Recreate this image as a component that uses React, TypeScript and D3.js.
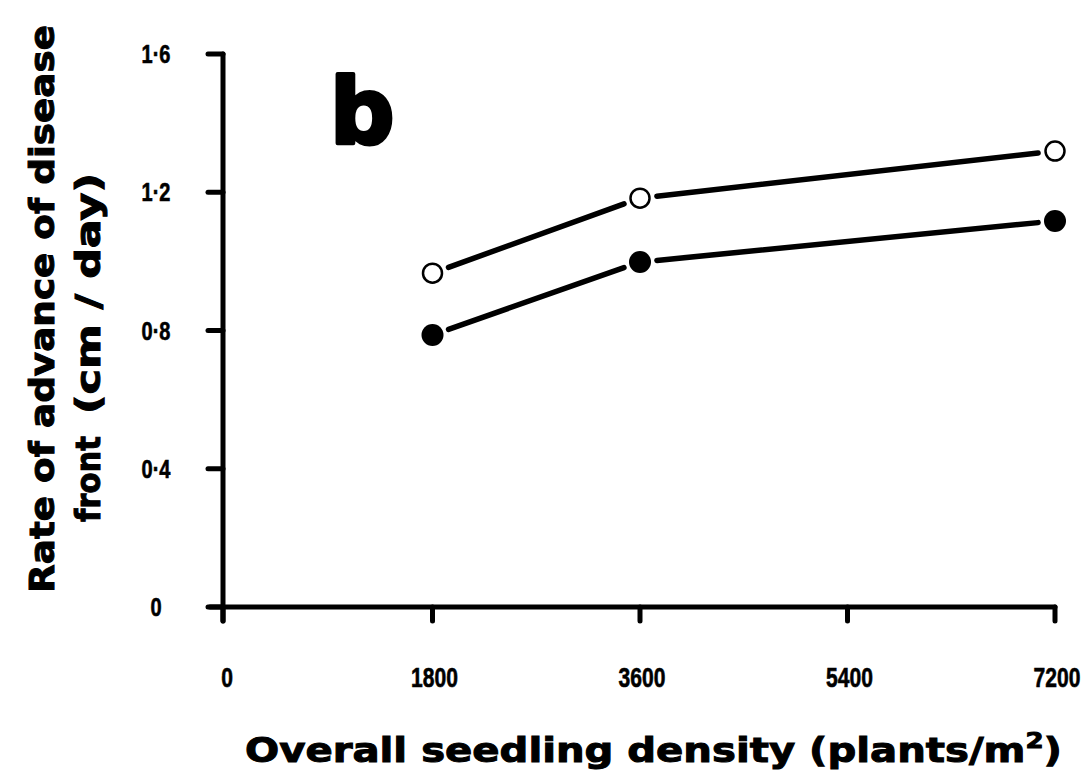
import React from "react";
import * as d3 from "d3";

const densities = [1800, 3600, 7200];
const openSeries = [0.966, 1.183, 1.319];
const filledSeries = [0.787, 0.998, 1.117];
const xTicks = [0, 1800, 3600, 5400, 7200];
const yTicks = [0, 0.4, 0.8, 1.2, 1.6];
const yTickLabels = ["0", "0·4", "0·8", "1·2", "1·6"];

const W = 1090;
const H = 775;

export default function App() {
  const x = d3.scaleLinear().domain([0, 7200]).range([225, 1055]);
  const y = d3.scaleLinear().domain([0, 1.6]).range([607, 54]);
  const tickFont = "'Liberation Sans', Arial, sans-serif";
  const titleFont = "'DejaVu Sans', Verdana, sans-serif";
  const axX = 223;

  const segments = (vals: number[]) => {
    const gap = 17;
    const out: { x1: number; y1: number; x2: number; y2: number }[] = [];
    for (let i = 0; i < vals.length - 1; i++) {
      const ax = x(densities[i]), ay = y(vals[i]);
      const bx = x(densities[i + 1]), by = y(vals[i + 1]);
      const len = Math.hypot(bx - ax, by - ay);
      const ux = (bx - ax) / len, uy = (by - ay) / len;
      out.push({ x1: ax + ux * gap, y1: ay + uy * gap, x2: bx - ux * gap, y2: by - uy * gap });
    }
    return out;
  };

  return (
    <svg width={W} height={H} style={{ position: "absolute", left: 0, top: 0, background: "#fff" }}>
      <rect x={0} y={0} width={W} height={H} fill="#fff" />
      {/* axes */}
      <line x1={axX} y1={y(1.6)} x2={axX} y2={621} stroke="#000" strokeWidth={5} strokeLinecap="round" />
      <line x1={210} y1={y(0)} x2={x(7200)} y2={y(0)} stroke="#000" strokeWidth={5} strokeLinecap="round" />
      {yTicks.map((t) => (
        <line key={"yt" + t} x1={208} y1={y(t)} x2={axX} y2={y(t)} stroke="#000" strokeWidth={5} strokeLinecap="round" />
      ))}
      {xTicks.map((t) => (
        <line key={"xt" + t} x1={t === 0 ? axX : x(t)} y1={y(0)} x2={t === 0 ? axX : x(t)} y2={621} stroke="#000" strokeWidth={5} strokeLinecap="round" />
      ))}
      {yTicks.map((t, i) => (
        <text key={"yl" + t} transform={`translate(156,${y(t) + 9}) scale(0.8,1)`} textAnchor="middle" fontFamily={tickFont} fontWeight="bold" fontSize={25} stroke="#000" strokeWidth={0.6}>
          {yTickLabels[i]}
        </text>
      ))}
      {xTicks.map((t) => (
        <text key={"xl" + t} transform={`translate(${x(t) + 2},687) scale(0.78,1)`} textAnchor="middle" fontFamily={tickFont} fontWeight="bold" fontSize={27} stroke="#000" strokeWidth={0.6}>
          {t}
        </text>
      ))}
      {/* lines */}
      {[openSeries, filledSeries].map((s, k) =>
        segments(s).map((g, i) => (
          <line key={"seg" + k + i} x1={g.x1} y1={g.y1} x2={g.x2} y2={g.y2} stroke="#000" strokeWidth={5.5} strokeLinecap="round" />
        ))
      )}
      {openSeries.map((v, i) => (
        <circle key={"o" + i} cx={x(densities[i])} cy={y(v)} r={9.5} fill="#fff" stroke="#000" strokeWidth={2.5} />
      ))}
      {filledSeries.map((v, i) => (
        <circle key={"f" + i} cx={x(densities[i])} cy={y(v)} r={11} fill="#000" />
      ))}
      {/* panel letter */}
      <text x={330} y={143} fontFamily={titleFont} fontWeight="bold" fontSize={90} stroke="#000" strokeWidth={4} strokeLinejoin="round">b</text>
      {/* axis titles */}
      <text x={245} y={762} fontFamily={titleFont} fontWeight="bold" fontSize={34} textLength={817} lengthAdjust="spacingAndGlyphs" stroke="#000" strokeWidth={1}>
        Overall seedling density (plants/m<tspan dy={-14} fontSize={22}>2</tspan><tspan dy={14}>)</tspan>
      </text>
      <text transform="translate(54,593) rotate(-90)" fontFamily={titleFont} fontWeight="bold" fontSize={34} textLength={568} lengthAdjust="spacingAndGlyphs" stroke="#000" strokeWidth={1}>
        Rate of advance of disease
      </text>
      <text transform="translate(100,522) rotate(-90)" fontFamily={titleFont} fontWeight="bold" fontSize={34} textLength={86} lengthAdjust="spacingAndGlyphs" stroke="#000" strokeWidth={1}>
        front
      </text>
      <text transform="translate(100,414) rotate(-90)" fontFamily={titleFont} fontWeight="bold" fontSize={34} textLength={241} lengthAdjust="spacingAndGlyphs" stroke="#000" strokeWidth={1}>
        (cm / day)
      </text>
    </svg>
  );
}
